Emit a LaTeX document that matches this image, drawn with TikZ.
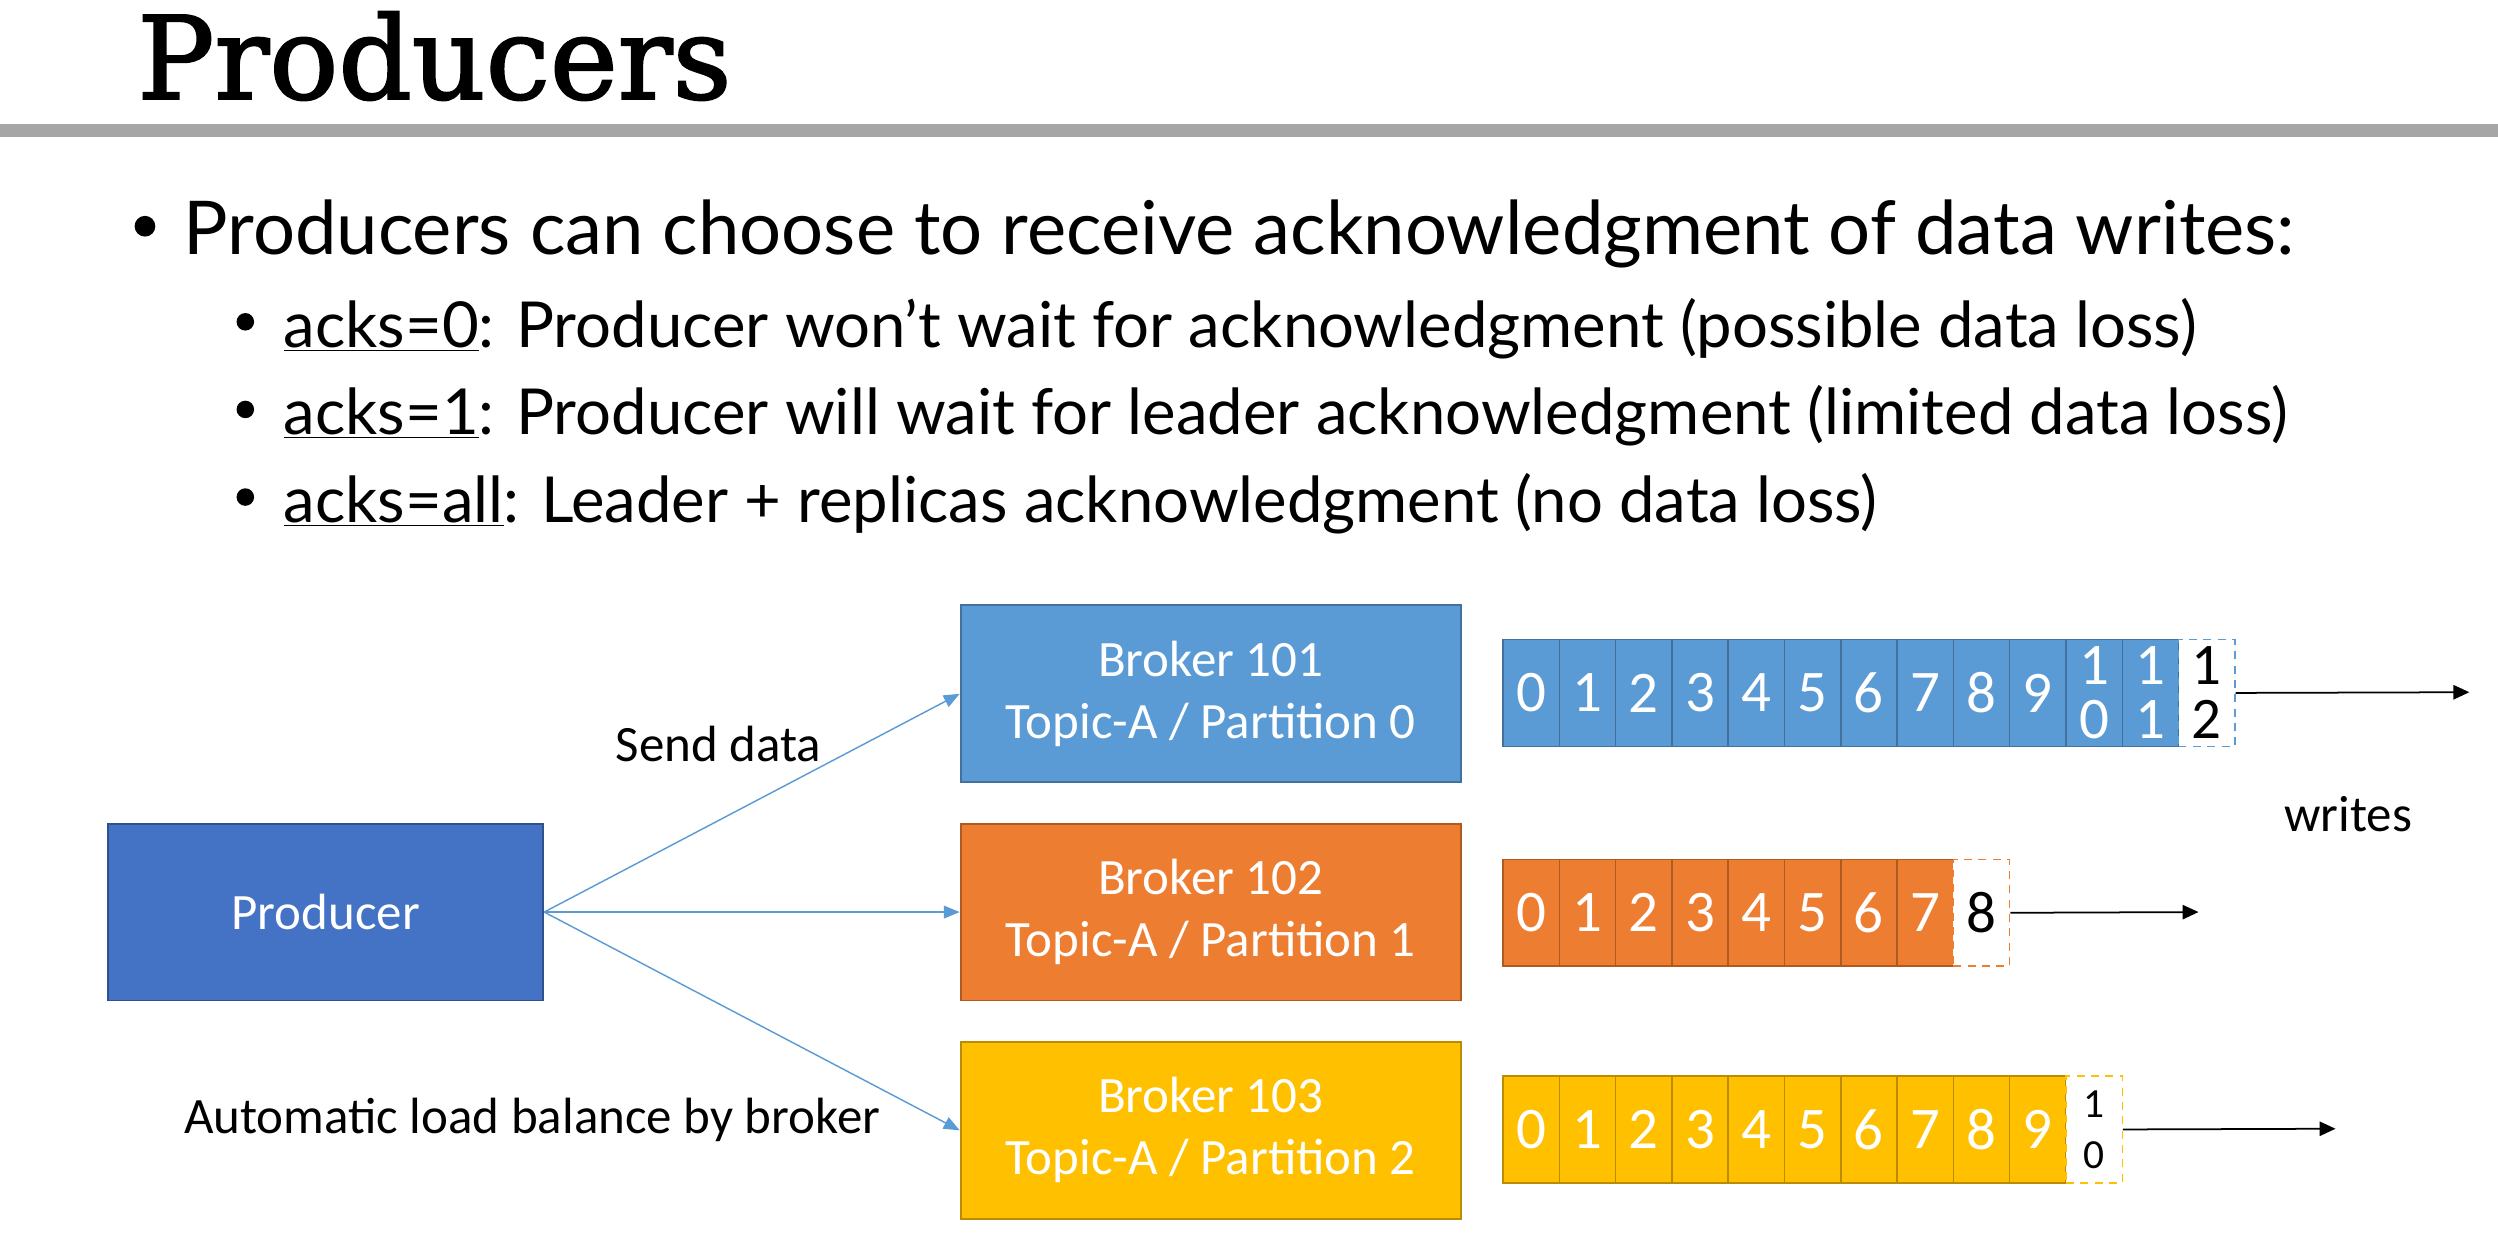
\documentclass[tikz,border=0pt]{standalone}
\usepackage{fontspec}
\setmainfont{Carlito}
\newfontfamily\titlefont[FakeBold=1.8]{DejaVu Serif}
\newfontfamily\bulletfont{Lato}
\usetikzlibrary{arrows.meta}

\definecolor{prodblue}{HTML}{4472C4}
\definecolor{prodedge}{HTML}{2F528F}
\definecolor{bblue}{HTML}{5B9BD5}
\definecolor{bblueedge}{HTML}{41719C}
\definecolor{borange}{HTML}{ED7D31}
\definecolor{borangeedge}{HTML}{AE5A21}
\definecolor{byellow}{HTML}{FFC000}
\definecolor{byellowedge}{HTML}{BC8C00}
\definecolor{rulegray}{HTML}{A6A6A6}

\tikzset{
  box/.style={draw, line width=1.2pt, minimum width=314pt, minimum height=111pt,
    inner sep=0pt, text=white, align=center, font=\fontsize{32}{39}\selectfont},
  cell/.style={draw, line width=0.9pt, minimum width=35.33pt, minimum height=67pt,
    inner sep=0pt, text=white, align=center, font=\fontsize{37}{34}\selectfont},
  nextcell/.style={cell, dashed, dash pattern=on 5pt off 4pt, fill=white, text=black},
  flow/.style={draw=bblue, line width=0.9pt, -{Triangle[length=10pt,width=8pt]}},
  writearrow/.style={draw=black, line width=1.1pt, -{Triangle[length=10pt,width=9pt]}},
  label/.style={inner sep=0pt, font=\fontsize{32}{39}\selectfont},
  head/.style={anchor=base west, inner sep=0pt, font=\bulletfont\fontsize{46.6}{50}\selectfont},
  subhead/.style={anchor=base west, inner sep=0pt, font=\bulletfont\fontsize{39.8}{44}\selectfont},
  dot/.style={circle, fill=black, draw=none, inner sep=0pt, outer sep=0pt},
}

\begin{document}
\begin{tikzpicture}[x=1pt,y=-1pt]
  % page frame
  \fill[white] (0,0) rectangle (1568,785);
  \useasboundingbox (0,0) rectangle (1568,785);

  % title and rule
  \node[anchor=base west, inner sep=0pt, font=\titlefont\fontsize{72}{80}\selectfont] (title) at (86,62) {Producers};
  \fill[rulegray] (0,78) rectangle (1568,86);

  % bullet list
  \node[dot, minimum size=13pt] (dot1) at (91,142) {};
  \node[head] (item1) at (115,160) {Producers can choose to receive acknowledgment of data writes:};
  \node[dot, minimum size=11pt] (dot2) at (154,202) {};
  \node[subhead] (item2) at (178,218) {\underline{acks=0}: Producer won’t wait for acknowledgment (possible data loss)};
  \node[dot, minimum size=11pt] (dot3) at (154,257) {};
  \node[subhead] (item3) at (178,273) {\underline{acks=1}: Producer will wait for leader acknowledgment (limited data loss)};
  \node[dot, minimum size=11pt] (dot4) at (154,312) {};
  \node[subhead] (item4) at (178,328) {\underline{acks=all}: Leader + replicas acknowledgment (no data loss)};

  % producer and brokers
  \node[box, fill=prodblue, draw=prodedge, minimum width=273pt] (prod) at (204.5,572.5) {Producer};
  \node[box, fill=bblue, draw=bblueedge] (b101) at (760,435.5) {Broker 101\\Topic-A / Partition 0};
  \node[box, fill=borange, draw=borangeedge] (b102) at (760,572.5) {Broker 102\\Topic-A / Partition 1};
  \node[box, fill=byellow, draw=byellowedge] (b103) at (760,709.5) {Broker 103\\Topic-A / Partition 2};

  \draw[flow] (prod.east) -- (b101.west);
  \draw[flow] (prod.east) -- (b102.west);
  \draw[flow] (prod.east) -- (b103.west);

  \node[label] (send) at (451,467) {Send data};
  \node[label] (balance) at (334,703) {Automatic load balance by broker};
  \node[label] (writes) at (1474,511) {writes};

  % partition 0 log
  \foreach \lbl [count=\i from 0] in {0,1,2,3,4,5,6,7,8,9,{1\\0},{1\\1}}
    \node[cell, fill=bblue, draw=bblueedge, anchor=north west] (p0c\i) at ({943+\i*35.333},401) {\lbl};
  \node[nextcell, draw=bblue, anchor=north west] (p0n) at ({943+12*35.333},401) {1\\2};
  \coordinate (p0end) at (1550,434.5);
  \draw[writearrow] (p0n.east) -- (p0end);

  % partition 1 log
  \foreach \lbl [count=\i from 0] in {0,1,2,3,4,5,6,7}
    \node[cell, fill=borange, draw=borangeedge, anchor=north west] (p1c\i) at ({943+\i*35.333},539) {\lbl};
  \node[nextcell, draw=borange, anchor=north west] (p1n) at ({943+8*35.333},539) {8};
  \coordinate (p1end) at (1380,572.5);
  \draw[writearrow] (p1n.east) -- (p1end);

  % partition 2 log
  \foreach \lbl [count=\i from 0] in {0,1,2,3,4,5,6,7,8,9}
    \node[cell, fill=byellow, draw=byellowedge, anchor=north west] (p2c\i) at ({943+\i*35.333},675) {\lbl};
  \node[nextcell, draw=byellow, anchor=north west, font=\fontsize{26}{32}\selectfont] (p2n) at ({943+10*35.333},675) {1\\0};
  \coordinate (p2end) at (1466,708.5);
  \draw[writearrow] (p2n.east) -- (p2end);
\end{tikzpicture}
\end{document}
